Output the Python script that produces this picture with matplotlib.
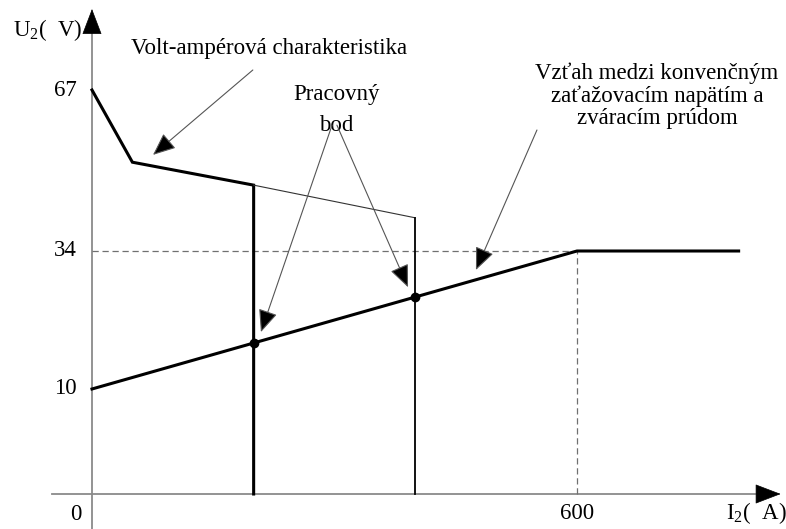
import numpy as np
import matplotlib
matplotlib.use('Agg')
import matplotlib.pyplot as plt

plt.rcParams['font.family'] = ['Liberation Serif', 'DejaVu Serif']
plt.rcParams['mathtext.fontset'] = 'custom'
plt.rcParams['mathtext.rm'] = 'Liberation Serif'

# volt-ampere characteristic of the source (I2 in A, U2 in V)
va_current = [0, 50, 200, 200]
va_voltage = [67, 52.2, 47.5, 0]
# characteristic after the setting is changed
va2_current = [200, 400, 400]
va2_voltage = [47.5, 40.8, 0]
# conventional load voltage U2 = 10 + 0.04 I2, limited to 34 V
load_current = [0, 600, 800]
load_voltage = [10, 34, 34]
# working points
work_current = [200, 400]
work_voltage = [18, 26]

y_ticks = [67, 34, 10]
x_ticks = [600]

# schematic (non-uniform) voltage axis
u_knots = [-100, 0, 10, 34, 67, 200]
p_knots = [-1050, 0, 105, 243, 404, 1053]
def fwd(u):
    return np.interp(u, u_knots, p_knots)
def inv(p):
    return np.interp(p, p_knots, u_knots)

fig = plt.figure(figsize=(7.86, 5.29), dpi=100)
ax = fig.add_axes([0, 0, 1, 1])
ax.set_yscale('function', functions=(fwd, inv))
ax.set_xlim(-113.8, 858.6)
ax.set_ylim(float(inv(-35)), float(inv(494)))
ax.axis('off')

# axes with arrow heads
axc = '#8a8a8a'
ax.plot([-50, 820], [0, 0], color=axc, lw=1.3, zorder=1)
ax.plot([0, 0], [-3.3, 82], color=axc, lw=1.3, zorder=1)
head = dict(arrowstyle='-|>,head_length=17,head_width=6.5', color='black',
            mutation_scale=1, shrinkA=0, shrinkB=0, lw=0.5)
ax.annotate('', xy=(852, 0), xytext=(822, 0), arrowprops=head, annotation_clip=False)
ax.annotate('', xy=(0, float(inv(485))), xytext=(0, 80), arrowprops=head)

# guide lines at 34 V and 600 A
ax.plot([0, 600], [34, 34], color='#707070', lw=0.9, ls=(0, (5, 3)), zorder=1)
ax.plot([600, 600], [0, 34], color='#707070', lw=0.9, ls=(0, (5, 3)), zorder=1)

ax.plot(va_current, va_voltage, color='black', lw=2.2, solid_joinstyle='miter', zorder=3)
ax.plot(va2_current[:2], va2_voltage[:2], color='#333333', lw=0.8, zorder=3)
ax.plot(va2_current[1:], va2_voltage[1:], color='black', lw=1.3, zorder=3)
ax.plot(load_current, load_voltage, color='black', lw=2.2, zorder=3)
ax.plot(work_current, work_voltage, 'o', color='black', ms=6, zorder=4)

# tick labels
fs = 16.5
for v in y_ticks:
    ax.annotate(str(v), xy=(0, v), xytext=(-11, 0), textcoords='offset points',
                ha='right', va='center', fontsize=fs)
ax.annotate('0', xy=(0, 0), xytext=(-12, -15), textcoords='offset points',
            ha='center', va='center', fontsize=fs)
for v in x_ticks:
    ax.annotate(str(v), xy=(v, 0), xytext=(0, -14), textcoords='offset points',
                ha='center', va='center', fontsize=fs)
ax.annotate('U$_\\mathrm{2}$(\u2002V)', xy=(0, float(inv(464))), xytext=(-7, 0),
            textcoords='offset points', ha='right', va='center', fontsize=fs)
ax.annotate('I$_\\mathrm{2}$(\u2002A)', xy=(860, 0), xytext=(0, -14), textcoords='offset points',
            ha='right', va='center', fontsize=fs, annotation_clip=False)

# callouts
pointer = dict(arrowstyle='-|>,head_length=14,head_width=6', ec='#555555', fc='black',
               mutation_scale=1, shrinkA=0, shrinkB=0, lw=0.8)
ax.text(219, 75.6, 'Volt-ampérová charakteristika', ha='center', va='center', fontsize=fs)
ax.annotate('', xy=(75.5, 53.7), xytext=(199, 71.1), arrowprops=pointer)

ax.text(302, 66.0, 'Pracovný', ha='center', va='center', fontsize=fs)
ax.text(302, 59.7, 'bod', ha='center', va='center', fontsize=fs)
ax.annotate('', xy=(209, 19.9), xytext=(297, 59.8), arrowprops=pointer)
ax.annotate('', xy=(391, 27.7), xytext=(303, 59.8), arrowprops=pointer)

ax.text(699, 65.8, 'Vzťah medzi konvenčným\nzaťažovacím napätím a\nzváracím prúdom',
        ha='center', va='center', fontsize=fs, linespacing=1.07)
ax.annotate('', xy=(475, 30.7), xytext=(550.5, 58.8), arrowprops=pointer)

fig.savefig('out.png', dpi=100)
